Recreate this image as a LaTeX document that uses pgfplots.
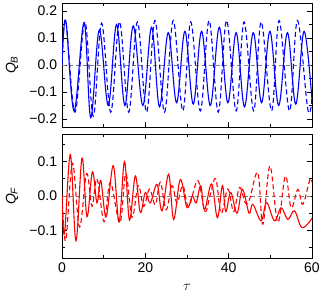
\documentclass[border=0pt]{standalone}
\usepackage{pgfplots}
\pgfplotsset{compat=1.18}
\usepackage{fontspec}
\setmainfont{Liberation Sans}
\begin{document}
\fontsize{14}{16}\selectfont
\begin{tikzpicture}
\pgfplotsset{
  myax/.style={
    scale only axis, width=250pt, height=124pt,
    xmin=0, xmax=60,
    axis line style={line width=0.8pt},
    every tick/.style={black, line width=0.7pt},
    major tick length=5pt, minor tick length=3pt,
    tick align=inside,
    xtick={0,20,40,60}, minor xtick={10,30,50},
    /pgf/number format/assume math mode=true,
    tick label style={font=\fontsize{14}{16}\selectfont},
    label style={font=\fontsize{14}{16}\selectfont},
    ylabel style={at={(axis description cs:-0.2,0.5)}, anchor=center, rotate=0},
    clip=true,
  },
  zl/.style={gray, line width=0.8pt, dash pattern=on 4pt off 3pt},
  sl/.style={line width=1.1pt, smooth, tension=0.6},
  dl/.style={line width=1.1pt, smooth, tension=0.6, dash pattern=on 5pt off 3pt},
}
% top panel
\begin{axis}[myax, at={(0,131pt)},
  ymin=-0.23, ymax=0.23,
  ytick={-0.2,-0.1,0,0.1,0.2},
  yticklabels={−0.2,−0.1,0.0,0.1,0.2},
  minor ytick={-0.15,-0.05,0.05,0.15},
  xticklabels={},
  ylabel={\textit{Q}\textsubscript{\textit{B}}}]
\addplot[zl] coordinates {(0,0) (60,0)};
\addplot[sl, blue] coordinates {
(0,0.0) (0.9,0.165) (2.9,-0.17) (5.3,0.157) (6.9,-0.195) (8.95,0.13)
(11.1,-0.15) (13.1,0.15) (15.1,-0.15) (17.1,0.145) (19.4,-0.15) (21.5,0.14)
(23.4,-0.155) (25.5,0.12) (27.5,-0.14) (29.5,0.125) (31.5,-0.145) (33.5,0.125)
(35.6,-0.15) (37.75,0.14) (39.8,-0.14) (41.8,0.12) (43.8,-0.155) (45.9,0.12)
(47.9,-0.14) (49.9,0.125) (52.0,-0.15) (54.1,0.12) (56.1,-0.145) (58.1,0.125)
(60,-0.13)};
\addplot[dl, blue] coordinates {
(0,0.0) (0.9,0.165) (3.1,-0.175) (5.5,0.16) (7.5,-0.19) (9.5,0.155)
(11.7,-0.175) (13.8,0.16) (16.0,-0.175) (18.1,0.16) (20.3,-0.175) (22.3,0.165)
(24.6,-0.175) (26.7,0.165) (29.0,-0.17) (30.9,0.16) (33.2,-0.17) (35.3,0.165)
(37.5,-0.175) (39.5,0.165) (41.8,-0.17) (43.7,0.16) (46.0,-0.17) (47.8,0.16)
(50.3,-0.17) (52.1,0.165) (54.6,-0.17) (56.5,0.165) (59.0,-0.165) (60,-0.12)};
\end{axis}
% bottom panel
\begin{axis}[myax, at={(0,0)},
  ymin=-0.18, ymax=0.18,
  ytick={-0.1,0,0.1},
  yticklabels={−0.1,0.0,0.1},
  minor ytick={-0.15,-0.05,0.05,0.15},
  xticklabels={0,20,40,60},
  xlabel={$\tau$},
  xlabel style={at={(axis description cs:0.5,0)}, anchor=center, yshift=-29pt},
  ylabel={\textit{Q}\textsubscript{\textit{F}}}]
\addplot[zl] coordinates {(0,0) (60,0)};
\addplot[sl, red] coordinates {
(0,0.0) (0.6,-0.11) (2.0,0.12) (3.35,-0.13) (4.8,0.11) (6.0,-0.06) (7.3,0.07)
(8.4,-0.02) (9.3,0.045) (10.6,-0.06) (12.3,0.088) (13.7,-0.075) (15.0,0.10)
(16.2,-0.07) (17.6,0.058) (18.8,-0.048) (20.0,0.01) (21.2,-0.02) (22.8,0.034)
(24.0,-0.043) (25.6,0.063) (26.8,-0.068) (28.4,0.048) (30.0,-0.034) (31.3,0.0)
(32.2,-0.02) (33.3,0.03) (34.2,-0.04) (35.9,0.035) (37.3,-0.063) (38.5,0.03)
(39.3,-0.045) (40.5,0.01) (42.0,-0.05) (43.3,0.019) (44.9,-0.05) (45.8,-0.024)
(47.8,-0.072) (49.1,-0.019) (51.0,-0.072) (52.6,-0.034) (54.2,-0.068) (55.8,-0.043)
(57.6,-0.092) (60,-0.065)};
\addplot[dl, red] coordinates {
(0,0.0) (0.9,-0.13) (2.5,0.095) (4.2,-0.09) (5.9,0.065) (7.2,-0.03) (8.4,0.05)
(10.1,-0.075) (11.6,0.04) (13.9,-0.078) (15.3,0.065) (16.8,-0.062) (18.3,0.03)
(19.6,-0.03) (21.0,0.02) (22.4,-0.025) (23.6,0.04) (25.0,-0.04) (26.4,0.03)
(27.6,-0.02) (29.0,0.03) (30.4,-0.03) (32.6,0.045) (34.3,-0.045) (35.5,0.0)
(36.9,0.05) (38.2,-0.05) (39.8,0.02) (41.2,-0.045) (42.6,0.025) (44.0,-0.02)
(45.0,-0.01) (47.0,0.068) (48.2,-0.082) (49.9,0.087) (51.8,-0.077) (53.6,0.058)
(55.0,-0.034) (56.6,0.019) (57.8,-0.024) (59.5,0.048) (60,0.04)};
\end{axis}
\pgfresetboundingbox
\path[use as bounding box] (-62pt,-39pt) rectangle (258pt,258pt);
\end{tikzpicture}
\end{document}
